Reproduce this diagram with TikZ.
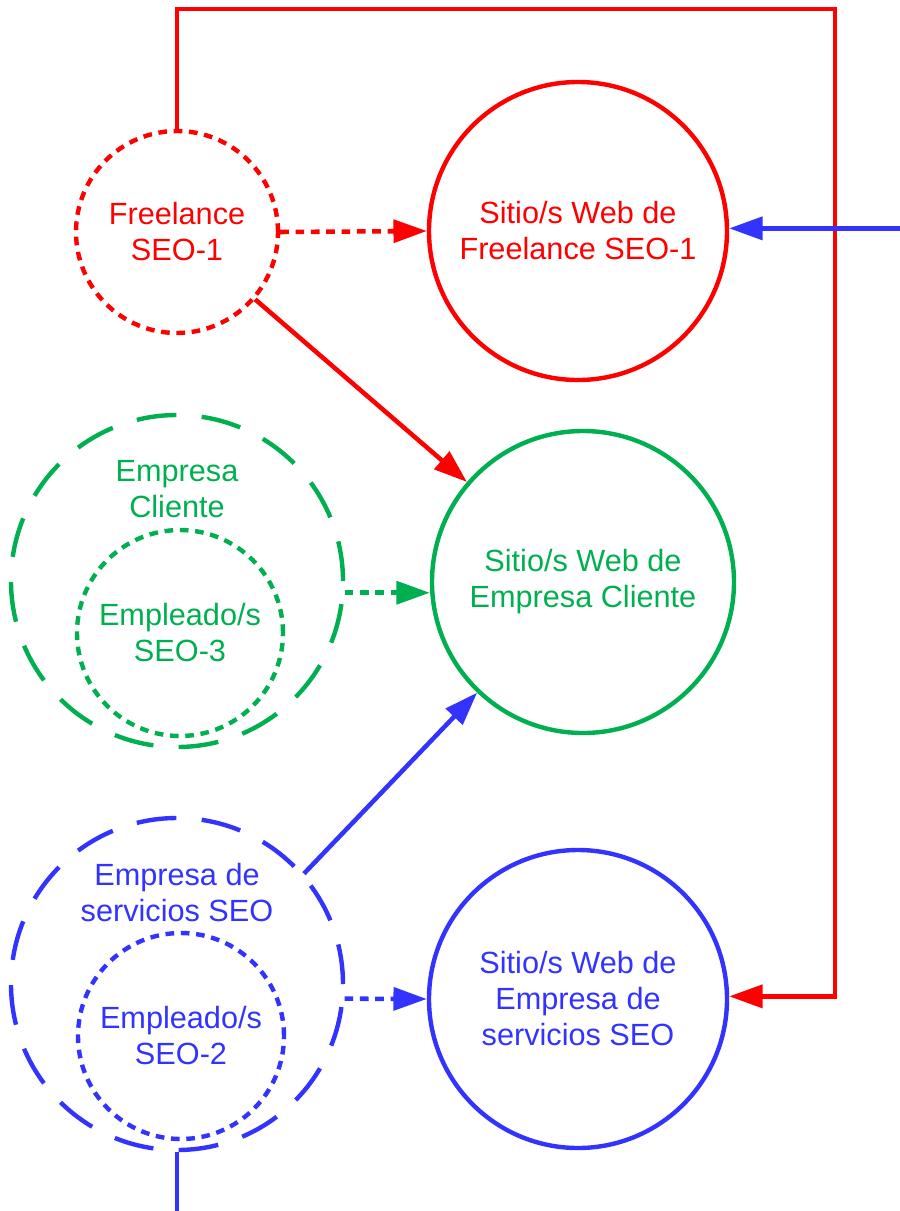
\documentclass[tikz,border=0pt]{standalone}
\usepackage{fontspec}
\setmainfont{Liberation Sans}
\usetikzlibrary{arrows.meta}
\definecolor{cred}{RGB}{255,0,0}
\definecolor{cgreen}{RGB}{0,176,80}
\definecolor{cblue}{RGB}{51,51,255}
\tikzset{
 lbl/.style={font=\fontsize{23}{27}\selectfont, align=center},
 site/.style={circle, draw, line width=3.3pt, inner sep=0pt, lbl},
 dotc/.style={circle, draw, line width=3.3pt, dash pattern=on 6.5pt off 5pt, inner sep=0pt, lbl},
 dashc/.style={circle, draw, line width=3.3pt, dash pattern=on 30pt off 19pt, inner sep=0pt},
 conn/.style={line width=3.4pt, -{Triangle[length=25pt,width=17pt]}},
 dconn/.style={conn, dash pattern=on 6.5pt off 5pt},
}
\begin{document}
\begin{tikzpicture}[x=0.75pt,y=-0.75pt]
\useasboundingbox (0,0) rectangle (900,1211);
% red group
\node[dotc, cred, minimum size=151.5pt] (fl) at (177,232) {Freelance\\SEO-1};
\node[site, cred, minimum size=223.5pt] (swf) at (578,231) {Sitio/s Web de\\Freelance SEO-1};
% green group
\node[dashc, cgreen, minimum size=249pt] (ec) at (177,581) {};
\node[lbl, cgreen] (ecl) at (177,489) {Empresa\\Cliente};
\node[dotc, cgreen, minimum size=154.5pt] (e3) at (180,633) {Empleado/s\\SEO-3};
\node[site, cgreen, minimum size=226.5pt] (swc) at (583,582) {Sitio/s Web de\\Empresa Cliente};
% blue group
\node[dashc, cblue, minimum size=249pt] (eb) at (177,984) {};
\node[lbl, cblue] (ebl) at (177,893) {Empresa de\\servicios SEO};
\node[dotc, cblue, minimum size=154.5pt] (e2) at (181,1036) {Empleado/s\\SEO-2};
\node[site, cblue, minimum size=223.5pt] (swb) at (578,999) {Sitio/s Web de\\Empresa de\\servicios SEO};
% free ends
\coordinate (rt) at (835,9);
\coordinate (redge) at (900,0);
\coordinate (bedge) at (0,1211);
% connectors
\draw[dconn, cred] (fl.east) -- (swf.west);
\draw[conn, cred] (fl) -- (swc);
\draw[conn, cred] (fl.north) |- (rt) |- (swb.1.5);
\draw[conn, cblue] (swf.1 -| redge) -- (swf.1);
\draw[dconn, cgreen] (ec.-4.8) -- (ec.-4.8 -| swc.west);
\draw[conn, cblue] (eb.41) -- (swc);
\draw[dconn, cblue] (eb.-5.2) -- (swb.west);
\draw[line width=3.4pt, cblue] (eb.south) -- (eb.south |- bedge);
\end{tikzpicture}
\end{document}
